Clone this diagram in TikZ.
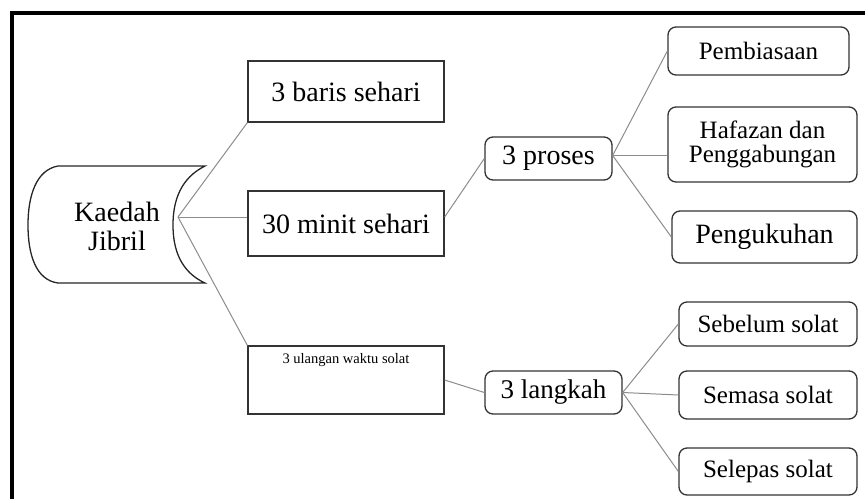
\documentclass[tikz,border=0pt]{standalone}
\usepackage{fontspec}
\setmainfont{Liberation Serif}
\usepackage{tikz}

\begin{document}
\begin{tikzpicture}[x=1pt, y=-1pt,
  sqbox/.style={draw=black!80, line width=1.3pt, inner sep=0pt, align=center},
  rbox/.style={sqbox, rounded corners=8pt},
  link/.style={draw=black!45, line width=1pt}]

% Canvas
\useasboundingbox (0,0) rectangle (865,499);

% Outer frame (left and top edges only)
\draw[line width=3.5pt] (12,499) -- (12,13) -- (865,13);

% Root shape parameters
\def\kjTop{166}
\def\kjBot{283}
\def\kjMid{225}

% Root shape: convex left side, concave right side
\draw[black!85, line width=1.3pt] (58,\kjTop) -- (205,\kjTop)
  .. controls (181,178) and (173,200) .. (173,\kjMid)
  .. controls (173,250) and (181,272) .. (205,\kjBot)
  -- (58,\kjBot)
  .. controls (36,280) and (28,255) .. (28,\kjMid)
  .. controls (28,196) and (36,170) .. (58,\kjTop);
\node[align=center, font={\fontsize{28}{29}\selectfont}] (kj) at (117,226) {Kaedah\\Jibril};
\coordinate (kjR) at (178,217);

% Second level (square boxes)
\node[sqbox, minimum width=196, minimum height=61, font={\fontsize{28}{29}\selectfont}] (baris) at (346,91.5) {3 baris sehari};
\node[sqbox, minimum width=196, minimum height=65, font={\fontsize{28}{29}\selectfont}] (minit) at (346,223.5) {30 minit sehari};
\node[sqbox, minimum width=196, minimum height=68] (ulangan) at (346,380) {};
\node[font={\fontsize{14.5}{16}\selectfont}] (ulanganTxt) at (346,360) {3 ulangan waktu solat};

% Third level
\node[rbox, minimum width=127, minimum height=43, font={\fontsize{28}{29}\selectfont}] (proses) at (548.5,158.5) {3 proses};
\node[rbox, minimum width=137, minimum height=43, font={\fontsize{27}{28}\selectfont}] (langkah) at (553.5,392.5) {3 langkah};

% Leaves of 3 proses
\node[rbox, minimum width=181, minimum height=48, font={\fontsize{25}{26}\selectfont}] (pembiasaan) at (758.5,51) {Pembiasaan};
\node[rbox, minimum width=189, minimum height=75, font={\fontsize{25}{24.5}\selectfont}] (hafazan) at (762.5,144.5) {Hafazan dan\\Penggabungan};
\node[rbox, minimum width=185, minimum height=52, font={\fontsize{28}{29}\selectfont}] (pengukuhan) at (764.5,237) {Pengukuhan};

% Leaves of 3 langkah
\node[rbox, minimum width=178, minimum height=44, font={\fontsize{25}{26}\selectfont}] (sebelum) at (768,324) {Sebelum solat};
\node[rbox, minimum width=178, minimum height=48, font={\fontsize{25}{26}\selectfont}] (semasa) at (768,395) {Semasa solat};
\node[rbox, minimum width=178, minimum height=47, font={\fontsize{25}{26}\selectfont}] (selepas) at (768,471.5) {Selepas solat};

% Connectors from the root
\draw[link] (kjR) -- (baris.south west);
\draw[link] (kjR) -- (kjR -| minit.west);
\draw[link] (kjR) -- (ulangan.north west);

% Connectors to the third level
\draw[link] (kjR -| minit.east) -- (proses.west);
\draw[link] (ulangan.east) -- (langkah.west);

% Connectors to the leaves
\coordinate (prosesR) at ([yshift=3pt]proses.east);
\draw[link] (prosesR) -- (pembiasaan.west);
\draw[link] (prosesR) -- (prosesR -| hafazan.west);
\draw[link] (prosesR) -- (pengukuhan.west);
\draw[link] (langkah.east) -- (sebelum.west);
\draw[link] (langkah.east) -- (semasa.west);
\draw[link] (langkah.east) -- (selepas.west);
\end{tikzpicture}
\end{document}
